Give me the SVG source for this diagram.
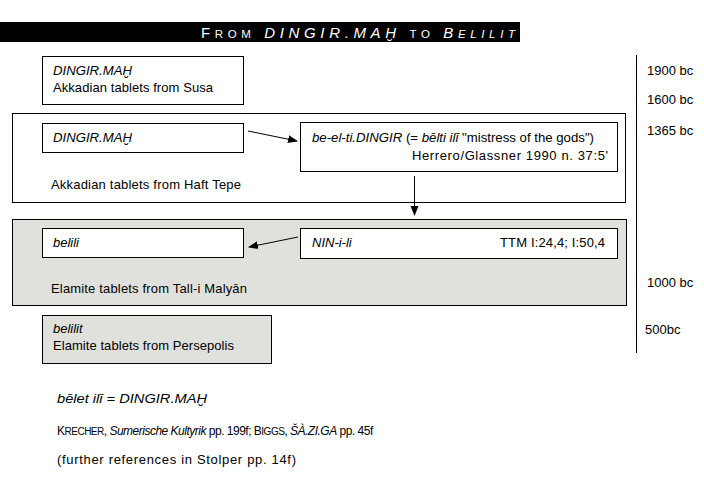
<svg xmlns="http://www.w3.org/2000/svg" width="704" height="482" viewBox="0 0 704 482">
<style>
text{font-family:"Liberation Sans",Arial,sans-serif;font-size:13px;fill:#000}
.i{font-style:italic}
.box{fill:#fff;stroke:#000;stroke-width:1}
.gbox{fill:#e0e0dc;stroke:#000;stroke-width:1}
.sc{font-size:10px}
.title{fill:#fff;font-size:15px}
.ts{font-size:11.5px}
.c{stroke:#000;stroke-width:1;fill:none}
.n2{font-size:12px;letter-spacing:-0.5px}
</style>
<defs>
<marker id="ah" viewBox="0 0 10 10" refX="9" refY="5" markerWidth="10" markerHeight="10" markerUnits="userSpaceOnUse" orient="auto">
<path d="M0,1 L10,5 L0,9 z" fill="#000"/>
</marker>
</defs>
<rect width="704" height="482" fill="#fff"/>
<g id="title">
<rect x="0" y="22" width="520" height="20" fill="#000"/>
<text x="201" y="38" class="title" textLength="314" lengthAdjust="spacing">F<tspan class="ts">ROM</tspan> <tspan class="i">DINGIR.MAḪ</tspan> <tspan class="ts">TO</tspan> <tspan class="i">B<tspan class="ts">ELILIT</tspan></tspan></text>
</g>
<g id="susa">
<rect x="42.5" y="56.5" width="201" height="48" class="box"/>
<text x="53" y="75" class="i" textLength="79" lengthAdjust="spacingAndGlyphs">DINGIR.MAḪ</text>
<text x="53" y="92" textLength="160" lengthAdjust="spacing">Akkadian tablets from Susa</text>
</g>
<g id="hafttepe">
<rect x="12.5" y="113.5" width="613" height="89" class="box"/>
<text x="51" y="189" textLength="190" lengthAdjust="spacing">Akkadian tablets from Haft Tepe</text>
</g>
<g id="dingir2">
<rect x="42.5" y="123.5" width="201" height="29" class="box"/>
<text x="53" y="142" class="i" textLength="79" lengthAdjust="spacingAndGlyphs">DINGIR.MAḪ</text>
</g>
<g id="beelti">
<rect x="300.5" y="122.5" width="317" height="49" class="box"/>
<text x="312" y="142" textLength="282" lengthAdjust="spacingAndGlyphs"><tspan class="i">be-el-ti.DINGIR</tspan> (= <tspan class="i">bēlti ilī</tspan> "mistress of the gods")</text>
<text x="412" y="160" textLength="196" lengthAdjust="spacing">Herrero/Glassner 1990 n. 37:5'</text>
</g>
<g id="malyan">
<rect x="12.5" y="219.5" width="614" height="86" class="gbox"/>
<text x="51" y="293" textLength="196" lengthAdjust="spacing">Elamite tablets from Tall-i Malyān</text>
</g>
<g id="belili">
<rect x="42.5" y="228.5" width="201" height="29" class="box"/>
<text x="53" y="247" class="i">belili</text>
</g>
<g id="ninili">
<rect x="300.5" y="228.5" width="317" height="30" class="box"/>
<text x="312" y="247" class="i">NIN-i-li</text>
<text x="500" y="247" textLength="105" lengthAdjust="spacing">TTM I:24,4; I:50,4</text>
</g>
<g id="persepolis">
<rect x="42.5" y="315.5" width="229" height="48" class="gbox"/>
<text x="53" y="333" class="i">belilit</text>
<text x="53" y="350" textLength="181" lengthAdjust="spacing">Elamite tablets from Persepolis</text>
</g>
<g id="timeline">
<line x1="636.5" y1="55" x2="636.5" y2="353" class="c"/>
<text x="647" y="75">1900 bc</text>
<text x="647" y="104">1600 bc</text>
<text x="647" y="135">1365 bc</text>
<text x="647" y="287">1000 bc</text>
<text x="645" y="334">500bc</text>
</g>
<g id="connectors">
<line x1="248" y1="131" x2="297" y2="141" class="c" marker-end="url(#ah)"/>
<line x1="414.5" y1="176" x2="414.5" y2="215" class="c" marker-end="url(#ah)"/>
<line x1="298" y1="237" x2="249" y2="247" class="c" marker-end="url(#ah)"/>
</g>
<g id="notes">
<text x="57" y="403" class="i" textLength="150" lengthAdjust="spacingAndGlyphs">bēlet ilī = DINGIR.MAḪ</text>
<text x="57" y="435" class="n2">K<tspan class="sc">RECHER</tspan>, <tspan class="i">Sumerische Kultyrik</tspan> pp. 199f; B<tspan class="sc">IGGS</tspan>, <tspan class="i">ŠÀ.ZI.GA</tspan> pp. 45f</text>
<text x="57" y="464" font-size="13.5" textLength="239" lengthAdjust="spacing">(further references in Stolper pp. 14f)</text>
</g>
</svg>
